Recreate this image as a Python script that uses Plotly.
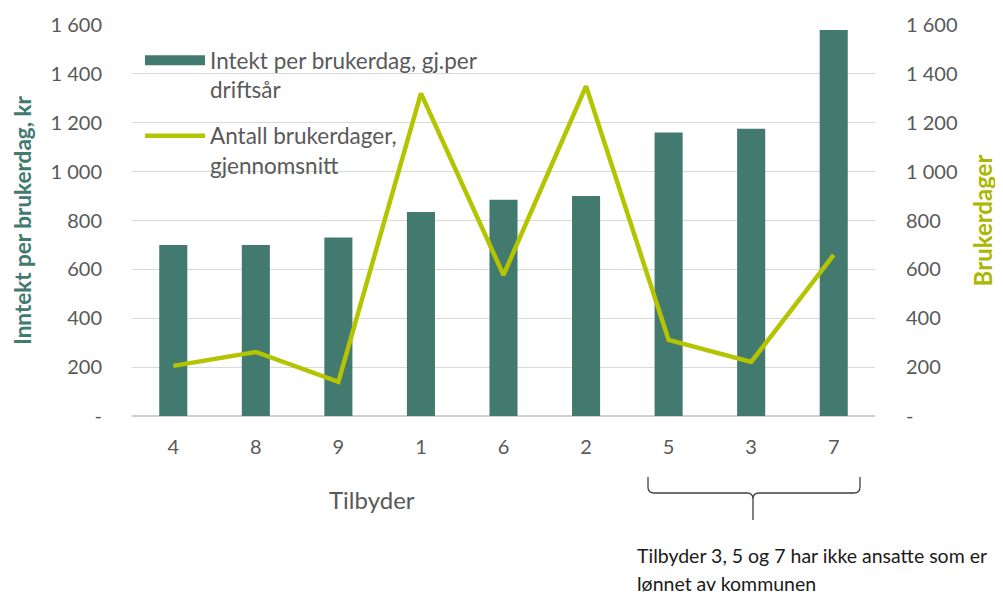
import plotly.graph_objects as go

# ---- data ----
tilbydere = ["4", "8", "9", "1", "6", "2", "5", "3", "7"]
inntekt_per_brukerdag = [700, 700, 730, 835, 885, 900, 1160, 1175, 1580]
antall_brukerdager = [205, 262, 140, 1320, 577, 1350, 311, 221, 659]
tick_vals = [0, 200, 400, 600, 800, 1000, 1200, 1400, 1600]
tick_text = ["-", "200", "400", "600", "800", "1 000", "1 200", "1 400", "1 600"]

BAR_COLOR = "#437A6F"
LINE_COLOR = "#B5C400"
TEXT_GREY = "#595959"
FONT = "Lato"

# page body has an 8px default margin; compensate so window pixels match
OFF = 8
W, H = 1003 - OFF, 597 - OFF
# plot-area geometry in window pixels
L, R, T, B = 132, 875, 25, 416


def px(x):
    return (x - L) / (R - L)


def py(y):
    return (B - y) / (B - T)


fig = go.Figure()
fig.add_trace(go.Bar(
    x=tilbydere, y=inntekt_per_brukerdag,
    name="Intekt per brukerdag, gj.per<br>driftsår",
    marker=dict(color=BAR_COLOR, line=dict(width=0)),
    yaxis="y", showlegend=False, legendgroup="a",
))
# legend proxy giving the bar entry a wide rectangular key
fig.add_trace(go.Scatter(
    x=[None], y=[None], mode="lines",
    name="Intekt per brukerdag, gj.per<br>driftsår",
    line=dict(color=BAR_COLOR, width=14), legendgroup="a",
    hoverinfo="skip",
))
fig.add_trace(go.Scatter(
    x=tilbydere, y=antall_brukerdager,
    name="Antall brukerdager,<br>gjennomsnitt",
    mode="lines",
    line=dict(color=LINE_COLOR, width=4.5),
    yaxis="y2", legendgroup="b",
))

# curly brace under 5, 3, 7
xl, xr, xc = px(648), px(860), px(753)
yt, yh, ytip = py(477), py(493), py(520)
rx, ry = 6 / (R - L), 6 / (B - T)
path = (
    f"M {xl},{yt} L {xl},{yh + ry} Q {xl},{yh} {xl + rx},{yh} "
    f"L {xc - rx},{yh} Q {xc},{yh} {xc},{yh - ry} L {xc},{ytip} "
    f"M {xc},{yh - ry} Q {xc},{yh} {xc + rx},{yh} "
    f"L {xr - rx},{yh} Q {xr},{yh} {xr},{yh + ry} L {xr},{yt}"
)

fig.update_layout(
    width=W, height=H,
    margin=dict(l=L - OFF, r=1003 - R, t=T - OFF, b=597 - B),
    paper_bgcolor="white", plot_bgcolor="white",
    font=dict(family=FONT, size=20, color=TEXT_GREY),
    bargap=0.66,
    showlegend=True,
    legend=dict(
        x=px(140), y=py(39), xanchor="left", yanchor="top",
        bgcolor="rgba(0,0,0,0)", font=dict(size=22.5, color=TEXT_GREY),
        valign="top", tracegroupgap=14, itemwidth=60,
    ),
    xaxis=dict(
        type="category", showgrid=False, showline=False, ticks="",
        ticklabelstandoff=17, automargin=False,
        tickfont=dict(size=20, color=TEXT_GREY),
    ),
    yaxis=dict(
        range=[0, 1600], tickvals=tick_vals, ticktext=tick_text,
        showgrid=True, gridcolor="#D9D9D9", gridwidth=1,
        zeroline=True, zerolinecolor="#D0D0D0", zerolinewidth=1.5,
        showline=False, ticks="", ticklabelstandoff=29, automargin=False,
        tickfont=dict(size=20, color=TEXT_GREY),
        title=dict(text="<b>Inntekt per brukerdag, kr</b>",
                   font=dict(size=22.5, color=BAR_COLOR), standoff=12),
    ),
    yaxis2=dict(
        range=[0, 1600], tickvals=tick_vals, ticktext=tick_text,
        overlaying="y", side="right", showgrid=False, zeroline=False,
        showline=False, ticks="", ticklabelstandoff=30, automargin=False,
        tickfont=dict(size=20, color=TEXT_GREY),
        title=dict(text="<b>Brukerdager</b>",
                   font=dict(size=24, color="#A9B800"), standoff=18),
    ),
    shapes=[dict(type="path", path=path, xref="paper", yref="paper",
                 line=dict(color="#404040", width=1.3))],
    annotations=[
        dict(text="Tilbyder",
             x=px(372), y=py(500), xref="paper", yref="paper",
             xanchor="center", yanchor="middle", showarrow=False,
             font=dict(size=24, color=TEXT_GREY)),
        dict(text="Tilbyder 3, 5 og 7 har ikke ansatte som er",
             x=px(635), y=py(555), xref="paper", yref="paper",
             xanchor="left", yanchor="middle", showarrow=False,
             font=dict(size=19.5, color="#1a1a1a")),
        dict(text="lønnet av kommunen",
             x=px(635), y=py(583), xref="paper", yref="paper",
             xanchor="left", yanchor="middle", showarrow=False,
             font=dict(size=19.5, color="#1a1a1a")),
    ],
)

fig.write_html("out.html")
